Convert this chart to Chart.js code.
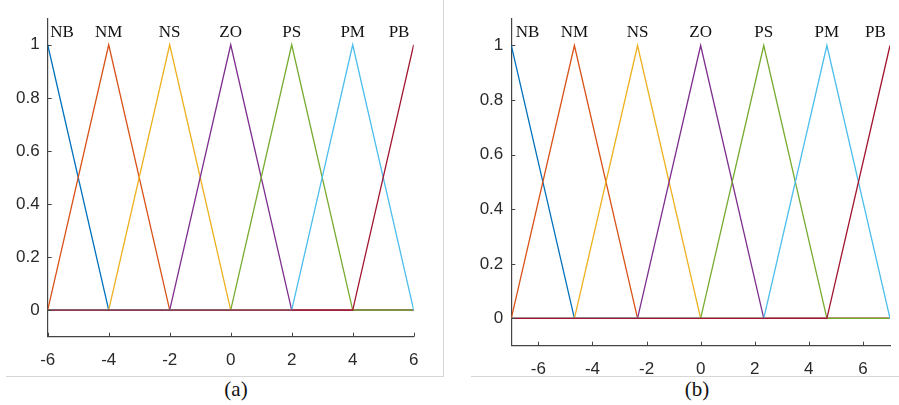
<!DOCTYPE html>
<html>
<head>
<meta charset="utf-8">
<script src="https://cdn.jsdelivr.net/npm/chart.js@4"></script>
<style>
  body { margin:0; background:#fff; }
  #page { position:relative; width:899px; height:405px; overflow:hidden; }
  .wrap { position:absolute; top:0; }
  .cap { position:absolute; width:60px; text-align:center; font:21px "Liberation Serif", serif; line-height:21px; color:#111; }
  .rule { position:absolute; background:#d6d6d6; }
</style>
</head>
<body>
<div id="page">
  <div class="wrap" style="left:0;width:440px;height:376px"><canvas id="chartA"></canvas></div>
  <div class="wrap" style="left:449px;width:450px;height:376px"><canvas id="chartB"></canvas></div>
  <div class="rule" style="left:6px;top:376px;width:438px;height:1px"></div>
  <div class="rule" style="left:443px;top:0;width:1px;height:377px"></div>
  <div class="rule" style="left:471px;top:376px;width:428px;height:1px"></div>
  <div class="cap" style="left:206px;top:379px">(a)</div>
  <div class="cap" style="left:667px;top:379px">(b)</div>
</div>
<script>
// membership functions (triangles), peak positions for each panel
const mfNames = ["NB", "NM", "NS", "ZO", "PS", "PM", "PB"];
const mfColors = ["#0072BD", "#D95319", "#EDB120", "#7E2F8E", "#77AC30", "#4DBEEE", "#A2142F"];
const peaksA = [-6, -4, -2, 0, 2, 4, 6];
const peaksB = [-7, -4.667, -2.333, 0, 2.333, 4.667, 7];
const xTicks = [-6, -4, -2, 0, 2, 4, 6];
const yTicks = [0, 0.2, 0.4, 0.6, 0.8, 1];
// where the names sit above the peaks
const nameXA = [-5.53, -4, -2, 0, 2, 4, 5.52];
const nameXB = [-6.4, -4.667, -2.333, 0, 2.333, 4.667, 6.46];
const nameY = 1.047;

const tickFont = { family: "'Liberation Sans', Arial, sans-serif", size: 17 };
const axisColor = "#444";

const triangles = (peaks) => {
    const last = peaks.length - 1;
    const xmin = peaks[0], xmax = peaks[last];
    return peaks.map((p, i) => {
        let pts = [];
        if (i > 0) pts.push({ x: xmin, y: 0 }, { x: peaks[i - 1], y: 0 });
        pts.push({ x: p, y: 1 });
        if (i < last) pts.push({ x: peaks[i + 1], y: 0 }, { x: xmax, y: 0 });
        return pts;
    });
};

// mf names + little inward ticks like matlab
const extras = {
    id: "extras",
    afterDraw(chart, args, opts) {
        const { ctx, scales: { x, y } } = chart;
        ctx.save();
        ctx.strokeStyle = axisColor;
        ctx.lineWidth = 1;
        xTicks.forEach(v => {
            const px = Math.round(x.getPixelForValue(v)) + 0.5;
            ctx.beginPath();
            ctx.moveTo(px, y.bottom);
            ctx.lineTo(px, y.bottom - 4);
            ctx.stroke();
        });
        yTicks.forEach(v => {
            const py = Math.round(y.getPixelForValue(v)) + 0.5;
            ctx.beginPath();
            ctx.moveTo(x.left, py);
            ctx.lineTo(x.left + 4, py);
            ctx.stroke();
        });
        ctx.fillStyle = "#111";
        ctx.font = "17px 'Liberation Serif', serif";
        ctx.textAlign = "center";
        ctx.textBaseline = "middle";
        mfNames.forEach((n, i) => {
            ctx.fillText(n, x.getPixelForValue(opts.nameX[i]), y.getPixelForValue(nameY));
        });
        ctx.restore();
    }
};

const makeChart = (id, peaks, nameX, yWidth, xHeight, padRight) => {
    const tri = triangles(peaks);
    return new Chart(document.getElementById(id), {
        type: "scatter",
        data: {
            datasets: mfNames.map((n, i) => ({
                label: n,
                data: tri[i],
                showLine: true,
                borderColor: mfColors[i],
                borderWidth: 1.3,
                pointRadius: 0,
                order: mfNames.length - i,
            })),
        },
        options: {
            responsive: true,
            maintainAspectRatio: false,
            animation: false,
            layout: { padding: { top: 10, right: padRight, left: 0, bottom: 0 } },
            plugins: {
                legend: { display: false },
                tooltip: { enabled: false },
                extras: { nameX: nameX },
            },
            scales: {
                x: {
                    type: "linear",
                    min: peaks[0],
                    max: peaks[peaks.length - 1],
                    afterBuildTicks: s => { s.ticks = xTicks.map(v => ({ value: v })); },
                    afterFit: s => { s.height = xHeight; },
                    grid: { display: false, drawTicks: false },
                    border: { display: true, color: axisColor, width: 1.2 },
                    ticks: { color: "#2a2a2a", font: tickFont, padding: 13, maxRotation: 0 },
                },
                y: {
                    min: -0.1,
                    max: 1.1,
                    afterBuildTicks: s => { s.ticks = yTicks.map(v => ({ value: v })); },
                    afterFit: s => { s.width = yWidth; },
                    grid: { display: false, drawTicks: false },
                    border: { display: true, color: axisColor, width: 1.2 },
                    ticks: { color: "#2a2a2a", font: tickFont, padding: 8,
                        callback: v => String(Math.round(v * 10) / 10) },
                },
            },
        },
        plugins: [extras],
    });
};

makeChart("chartA", peaksA, nameXA, 47.7, 39.3, 26.3);
makeChart("chartB", peaksB, nameXB, 62.3, 30.3, 9);
</script>
</body>
</html>
